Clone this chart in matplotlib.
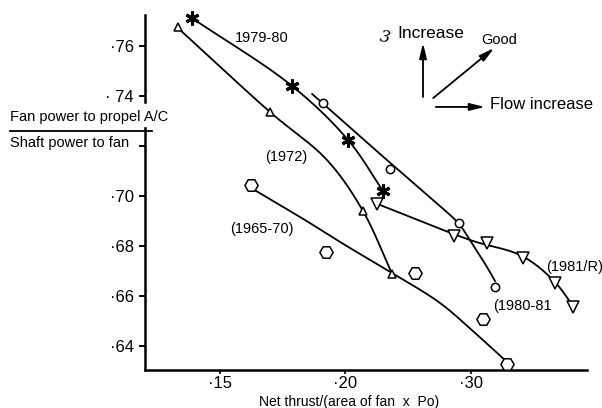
import numpy as np
import matplotlib
matplotlib.use("Agg")
import matplotlib.pyplot as plt
from matplotlib.patches import Rectangle

plt.rcParams["font.family"] = ["Liberation Sans", "DejaVu Sans"]

# ---- data -------------------------------------------------------------
# measured points (markers)
s7980_x = [0.1390, 0.1789, 0.2024, 0.2303]
s7980_y = [0.7712, 0.7440, 0.7224, 0.7020]

s1972_x = [0.1335, 0.1701, 0.2143, 0.2375]
s1972_y = [0.7676, 0.7336, 0.6940, 0.6688]

s6570_x = [0.1626, 0.1924, 0.2558, 0.3100, 0.3291]
s6570_y = [0.7044, 0.6776, 0.6692, 0.6508, 0.6328]

s8081_x = [0.1912, 0.2359, 0.2908, 0.3195]
s8081_y = [0.7372, 0.7108, 0.6892, 0.6636]

s81R_x = [0.2255, 0.2869, 0.3131, 0.3418, 0.3673, 0.3817]
s81R_y = [0.6968, 0.6840, 0.6812, 0.6752, 0.6652, 0.6556]

# faired trend curves
c7980_x = s7980_x
c7980_y = s7980_y

c1972_x = [0.1343, 0.1701, 0.1928, 0.2143, 0.2375]
c1972_y = [0.7664, 0.7336, 0.7144, 0.6940, 0.6688]

c6570_x = [0.1626, 0.1821, 0.2000, 0.2375, 0.2757, 0.3036, 0.3291]
c6570_y = [0.7032, 0.6916, 0.6804, 0.6692, 0.6572, 0.6452, 0.6336]

c8081_x = [0.1869, 0.2215, 0.2701, 0.2908, 0.3004, 0.3131, 0.3195]
c8081_y = [0.7408, 0.7196, 0.6984, 0.6888, 0.6816, 0.6716, 0.6660]

c81R_x = [0.2279, 0.2996, 0.3410, 0.3665, 0.3817]
c81R_y = [0.6964, 0.6824, 0.6760, 0.6660, 0.6560]

x_ticks = [0.15, 0.20, 0.30]
x_ticklabels = ["·15", "·20", "·30"]
y_ticks = [0.64, 0.66, 0.68, 0.70, 0.72, 0.74, 0.76]
y_ticklabels = ["·64", "·66", "·68", "·70", "", "· 74", "·76"]


# ---- piecewise-linear x scale (·15 → ·20 → ·30 equally spaced) ----------
def fwd(x):
    x = np.asarray(x, dtype=float)
    return np.where(x <= 0.20, (x - 0.15) / 0.05, 1.0 + (x - 0.20) / 0.10)


def inv(u):
    u = np.asarray(u, dtype=float)
    return np.where(u <= 1.0, 0.15 + 0.05 * u, 0.20 + 0.10 * (u - 1.0))


def catmull_rom(pts, n=40, alpha=0.5):
    pts = np.asarray(pts, dtype=float)
    if len(pts) < 3:
        return pts
    p = np.vstack([2 * pts[0] - pts[1], pts, 2 * pts[-1] - pts[-2]])
    out = []
    for i in range(1, len(p) - 2):
        p0, p1, p2, p3 = p[i - 1], p[i], p[i + 1], p[i + 2]
        t0 = 0.0
        t1 = t0 + np.linalg.norm(p1 - p0) ** alpha
        t2 = t1 + np.linalg.norm(p2 - p1) ** alpha
        t3 = t2 + np.linalg.norm(p3 - p2) ** alpha
        t = np.linspace(t1, t2, n)[:, None]
        a1 = (t1 - t) / (t1 - t0) * p0 + (t - t0) / (t1 - t0) * p1
        a2 = (t2 - t) / (t2 - t1) * p1 + (t - t1) / (t2 - t1) * p2
        a3 = (t3 - t) / (t3 - t2) * p2 + (t - t2) / (t3 - t2) * p3
        b1 = (t2 - t) / (t2 - t0) * a1 + (t - t0) / (t2 - t0) * a2
        b2 = (t3 - t) / (t3 - t1) * a2 + (t - t1) / (t3 - t1) * a3
        c = (t2 - t) / (t2 - t1) * b1 + (t - t1) / (t2 - t1) * b2
        out.append(c if i == len(p) - 3 else c[:-1])
    return np.vstack(out)


fig = plt.figure(figsize=(6.02, 4.08), dpi=100)
ax = fig.add_axes([145 / 602, 38 / 408, 442 / 602, 355 / 408])
ax.set_xscale("function", functions=(fwd, inv))
ax.set_xlim(0.1203, 0.3928)
ax.set_ylim(0.6304, 0.7724)

for side in ("top", "right"):
    ax.spines[side].set_visible(False)
for side in ("left", "bottom"):
    ax.spines[side].set_linewidth(1.8)

ax.set_xticks(x_ticks)
ax.set_xticklabels(x_ticklabels)
ax.set_yticks(y_ticks)
ax.set_yticklabels(y_ticklabels)
ax.xaxis.set_minor_locator(matplotlib.ticker.NullLocator())
ax.tick_params(axis="y", direction="out", length=4, width=1.4, labelsize=12, pad=4)
ax.tick_params(axis="x", direction="out", length=3, width=1.2, labelsize=12, pad=1)


def smooth(xs, ys):
    disp = ax.transData.transform(np.column_stack([xs, ys]))
    curve = catmull_rom(disp)
    return ax.transData.inverted().transform(curve)


lw = 1.3
for cx, cy in [(c7980_x, c7980_y), (c1972_x, c1972_y), (c6570_x, c6570_y),
               (c8081_x, c8081_y), (c81R_x, c81R_y)]:
    sm = smooth(cx, cy)
    ax.plot(sm[:, 0], sm[:, 1], color="black", lw=lw, zorder=2)

mk = dict(ls="none", clip_on=False, zorder=3)
ax.plot(s7980_x, s7980_y, marker=(6, 2, 0), ms=10, mew=2.2, color="black", **mk)
ax.plot(s1972_x, s1972_y, marker="^", ms=6, mew=1.1,
        mfc="white", mec="black", **mk)
ax.plot(s6570_x, s6570_y, marker="H", ms=9.5, mew=1.1,
        mfc="white", mec="black", **mk)
ax.plot(s8081_x, s8081_y, marker="o", ms=6, mew=1.1,
        mfc="white", mec="black", **mk)
ax.plot(s81R_x, s81R_y, marker="v", ms=8, mew=1.1,
        mfc="white", mec="black", **mk)

# series labels
lab = dict(transform=ax.transAxes, ha="center", va="center", fontsize=10.5)
ax.text(0.265, 0.935, "1979-80", **lab)
ax.text(0.319, 0.600, "(1972)", **lab)
ax.text(0.2636, 0.397, "(1965-70)", **lab)
ax.text(0.854, 0.180, "(1980-81", **lab)
ax.text(0.972, 0.290, "(1981/R)", clip_on=False, **lab)

# direction key
arrow = dict(arrowstyle="-|>,head_length=0.9,head_width=0.22", color="black",
             lw=1.3, shrinkA=0, shrinkB=0)
ax.annotate("", xy=(0.629, 0.921), xytext=(0.629, 0.769),
            xycoords="axes fraction", arrowprops=arrow)
ax.annotate("", xy=(0.790, 0.907), xytext=(0.652, 0.766),
            xycoords="axes fraction", arrowprops=arrow)
ax.annotate("", xy=(0.769, 0.741), xytext=(0.658, 0.741),
            xycoords="axes fraction", arrowprops=arrow)
ax.text(0.572, 0.949, "Increase", transform=ax.transAxes, ha="left",
        va="center", fontsize=12.5)
ax.text(0.543, 0.938, "3", transform=ax.transAxes, ha="center", va="center",
        fontsize=12, style="italic", family="DejaVu Serif", rotation=-10)
ax.text(0.801, 0.930, "Good", transform=ax.transAxes, ha="center",
        va="center", fontsize=10.5)
ax.text(0.781, 0.749, "Flow increase", transform=ax.transAxes, ha="left",
        va="center", fontsize=12)

# y-axis label as a fraction
fig.add_artist(Rectangle((140 / 602, 1 - 126 / 408), 10 / 602, 22 / 408,
                         transform=fig.transFigure, color="white", zorder=5))
fig.text(10 / 602, 1 - 117 / 408, "Fan power to propel A/C", ha="left",
         va="center", fontsize=10.5, zorder=6)
fig.add_artist(plt.Line2D([10 / 602, 152 / 602], [1 - 131 / 408, 1 - 131 / 408],
                          transform=fig.transFigure, color="black", lw=1.3,
                          zorder=6))
fig.text(10 / 602, 1 - 143 / 408, "Shaft power to fan", ha="left",
         va="center", fontsize=10.5, zorder=6)

# x-axis label
fig.text(349.5 / 602, 1 - 402 / 408, "Net thrust/(area of fan  x  Po)",
         ha="center", va="center", fontsize=10)

fig.savefig("out.png", dpi=100)
